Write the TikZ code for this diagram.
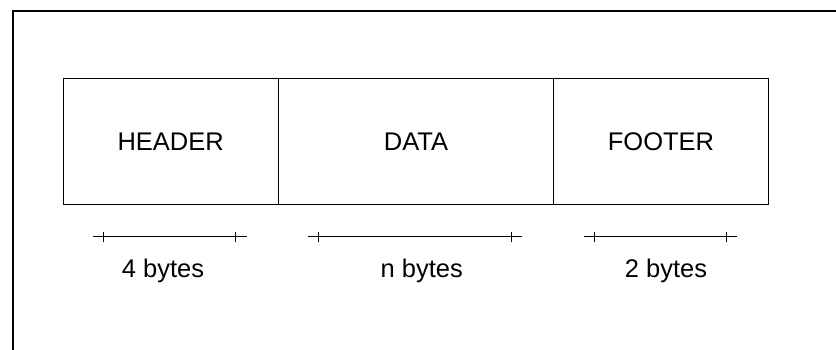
\documentclass[tikz,border=0pt]{standalone}
\usepackage{fontspec}
\setmainfont{Liberation Sans}
\begin{document}
\begin{tikzpicture}[x=1pt,y=-1pt,
  field/.style={draw, line width=1pt, minimum height=126.3pt, inner sep=0pt, anchor=north west, font=\fontsize{25.5}{30}\selectfont},
  lbl/.style={font=\fontsize{25.5}{30}\selectfont, inner sep=0pt},
  dim/.style={line width=1pt},
  tick/.style={line width=1pt}]
\useasboundingbox (0,0) rectangle (836,350);
% outer frame (top and left only)
\coordinate (fbl) at (13,351);
\coordinate (ftl) at (13,11);
\coordinate (ftr) at (837,11);
\draw[line width=2pt] (fbl) -- (ftl) -- (ftr);
% fields
\node[field, minimum width=215pt] (hdr) at (62.7,77.7) {HEADER};
\node[field, minimum width=275.6pt] (dat) at (277.7,77.7) {DATA};
\node[field, minimum width=214.4pt] (ftr) at (553.3,77.7) {FOOTER};
% dimension lines
\foreach \n/\a/\b/\ta/\tb/\tx/\t in {h/93/247/103.3/235.7/163/4 bytes, d/308/522/318.3/511.7/421.7/n bytes, f/584/737/594.3/726.7/666/2 bytes}{
  \coordinate (\n l) at (\a,236.7);
  \coordinate (\n r) at (\b,236.7);
  \draw[dim] (\n l) -- (\n r);
  \draw[tick] (\ta,231.7) -- (\ta,241.7);
  \draw[tick] (\tb,231.7) -- (\tb,241.7);
  \node[lbl] (\n t) at (\tx,270.5) {\t};
}
\end{tikzpicture}
\end{document}
